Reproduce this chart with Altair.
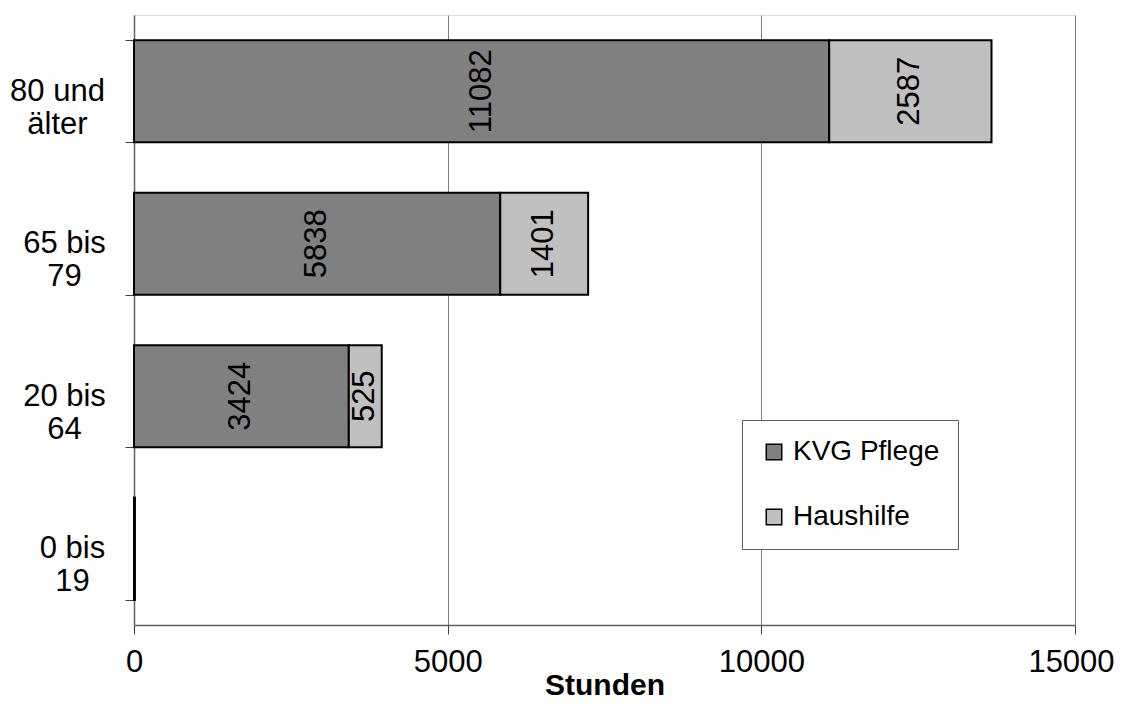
import altair as alt
import pandas as pd

categories = ["80 und älter", "65 bis 79", "20 bis 64", "0 bis 19"]
series = ["KVG Pflege", "Haushilfe"]
kvg_pflege = [11082, 5838, 3424, 10]
haushilfe = [2587, 1401, 525, 3]
x_ticks = [0, 5000, 10000, 15000]

rows = []
for c, k, h in zip(categories, kvg_pflege, haushilfe):
    rows.append({"cat": c, "series": series[0], "value": k, "ord": 0})
    rows.append({"cat": c, "series": series[1], "value": h, "ord": 1})
df = pd.DataFrame(rows)

FONT = "Liberation Sans"
FS = 31

base = alt.Chart(df).transform_stack(
    stack="value", as_=["v0", "v1"], groupby=["cat"], sort=[alt.SortField("ord")]
).transform_calculate(mid="(datum.v0 + datum.v1) / 2")

label_padding = {
    "condition": [
        {"test": "datum.value == '80 und älter'", "value": 68},
        {"test": "datum.value == '0 bis 19'", "value": 53},
    ],
    "value": 61,
}

x_label_offset = {
    "condition": {"test": "datum.value == 15000", "value": -4},
    "value": 0,
}

y_enc = alt.Y(
    "cat:N",
    sort=categories,
    scale=alt.Scale(paddingInner=0.33, paddingOuter=0.165),
    axis=alt.Axis(
        title=None,
        labelExpr="[substring(datum.label, 0, lastindexof(datum.label, ' ')), substring(datum.label, lastindexof(datum.label, ' ') + 1)]",
        labelFontSize=FS,
        labelFont=FONT,
        labelColor="black",
        labelAlign="center",
        labelBaseline="middle",
        labelLineHeight=33,
        labelPadding=label_padding,
        tickSize=9,
        tickColor="#404040",
        tickBand="extent",
        domainColor="#606060",
        domainWidth=1.5,
        grid=False,
    ),
)

bars = base.mark_bar(stroke="black", strokeWidth=2).encode(
    x=alt.X(
        "v0:Q",
        scale=alt.Scale(domain=[0, 15000], nice=False),
        axis=alt.Axis(
            values=x_ticks,
            title="Stunden",
            titleFont=FONT,
            titleFontSize=30,
            titleFontWeight="bold",
            titleColor="black",
            titlePadding=-7,
            labelFont=FONT,
            labelFontSize=FS,
            labelColor="black",
            labelPadding=13,
            labelOffset=x_label_offset,
            labelFlush=False,
            tickSize=9,
            tickColor="#404040",
            domainColor="#606060",
            domainWidth=1.5,
            grid=True,
            gridColor="#808080",
            gridWidth=1,
            format="d",
        ),
    ),
    x2="v1:Q",
    y=y_enc,
    color=alt.Color(
        "series:N",
        sort=series,
        scale=alt.Scale(domain=series, range=["#808080", "#C0C0C0"]),
        legend=alt.Legend(
            title=None,
            orient="none",
            legendX=608,
            legendY=405,
            symbolType="square",
            symbolSize=240,
            symbolStrokeColor="black",
            symbolStrokeWidth=1.5,
            symbolOpacity=1,
            labelFont=FONT,
            labelFontSize=28,
            labelColor="black",
            labelOffset=5,
            rowPadding=37,
            padding=18,
            strokeColor="#606060",
            fillColor="white",
            labelLimit=300,
        ),
    ),
    order=alt.Order("ord:Q"),
)

labels = base.transform_filter("datum.value > 100").mark_text(
    angle=270, align="center", baseline="middle", fontSize=FS, font=FONT, color="black"
).encode(
    x="mid:Q",
    y=alt.Y("cat:N", sort=categories),
    text=alt.Text("value:Q", format="d"),
)

chart = alt.layer(bars, labels).properties(
    width=941,
    height=610,
    autosize=alt.AutoSizeParams(type="none"),
    padding={"left": 126, "top": 7, "right": 40, "bottom": 76},
).configure_view(stroke="#909090", strokeWidth=1.5).configure(background="white")

chart.save("out.html", embed_options={"renderer": "svg", "actions": False})
